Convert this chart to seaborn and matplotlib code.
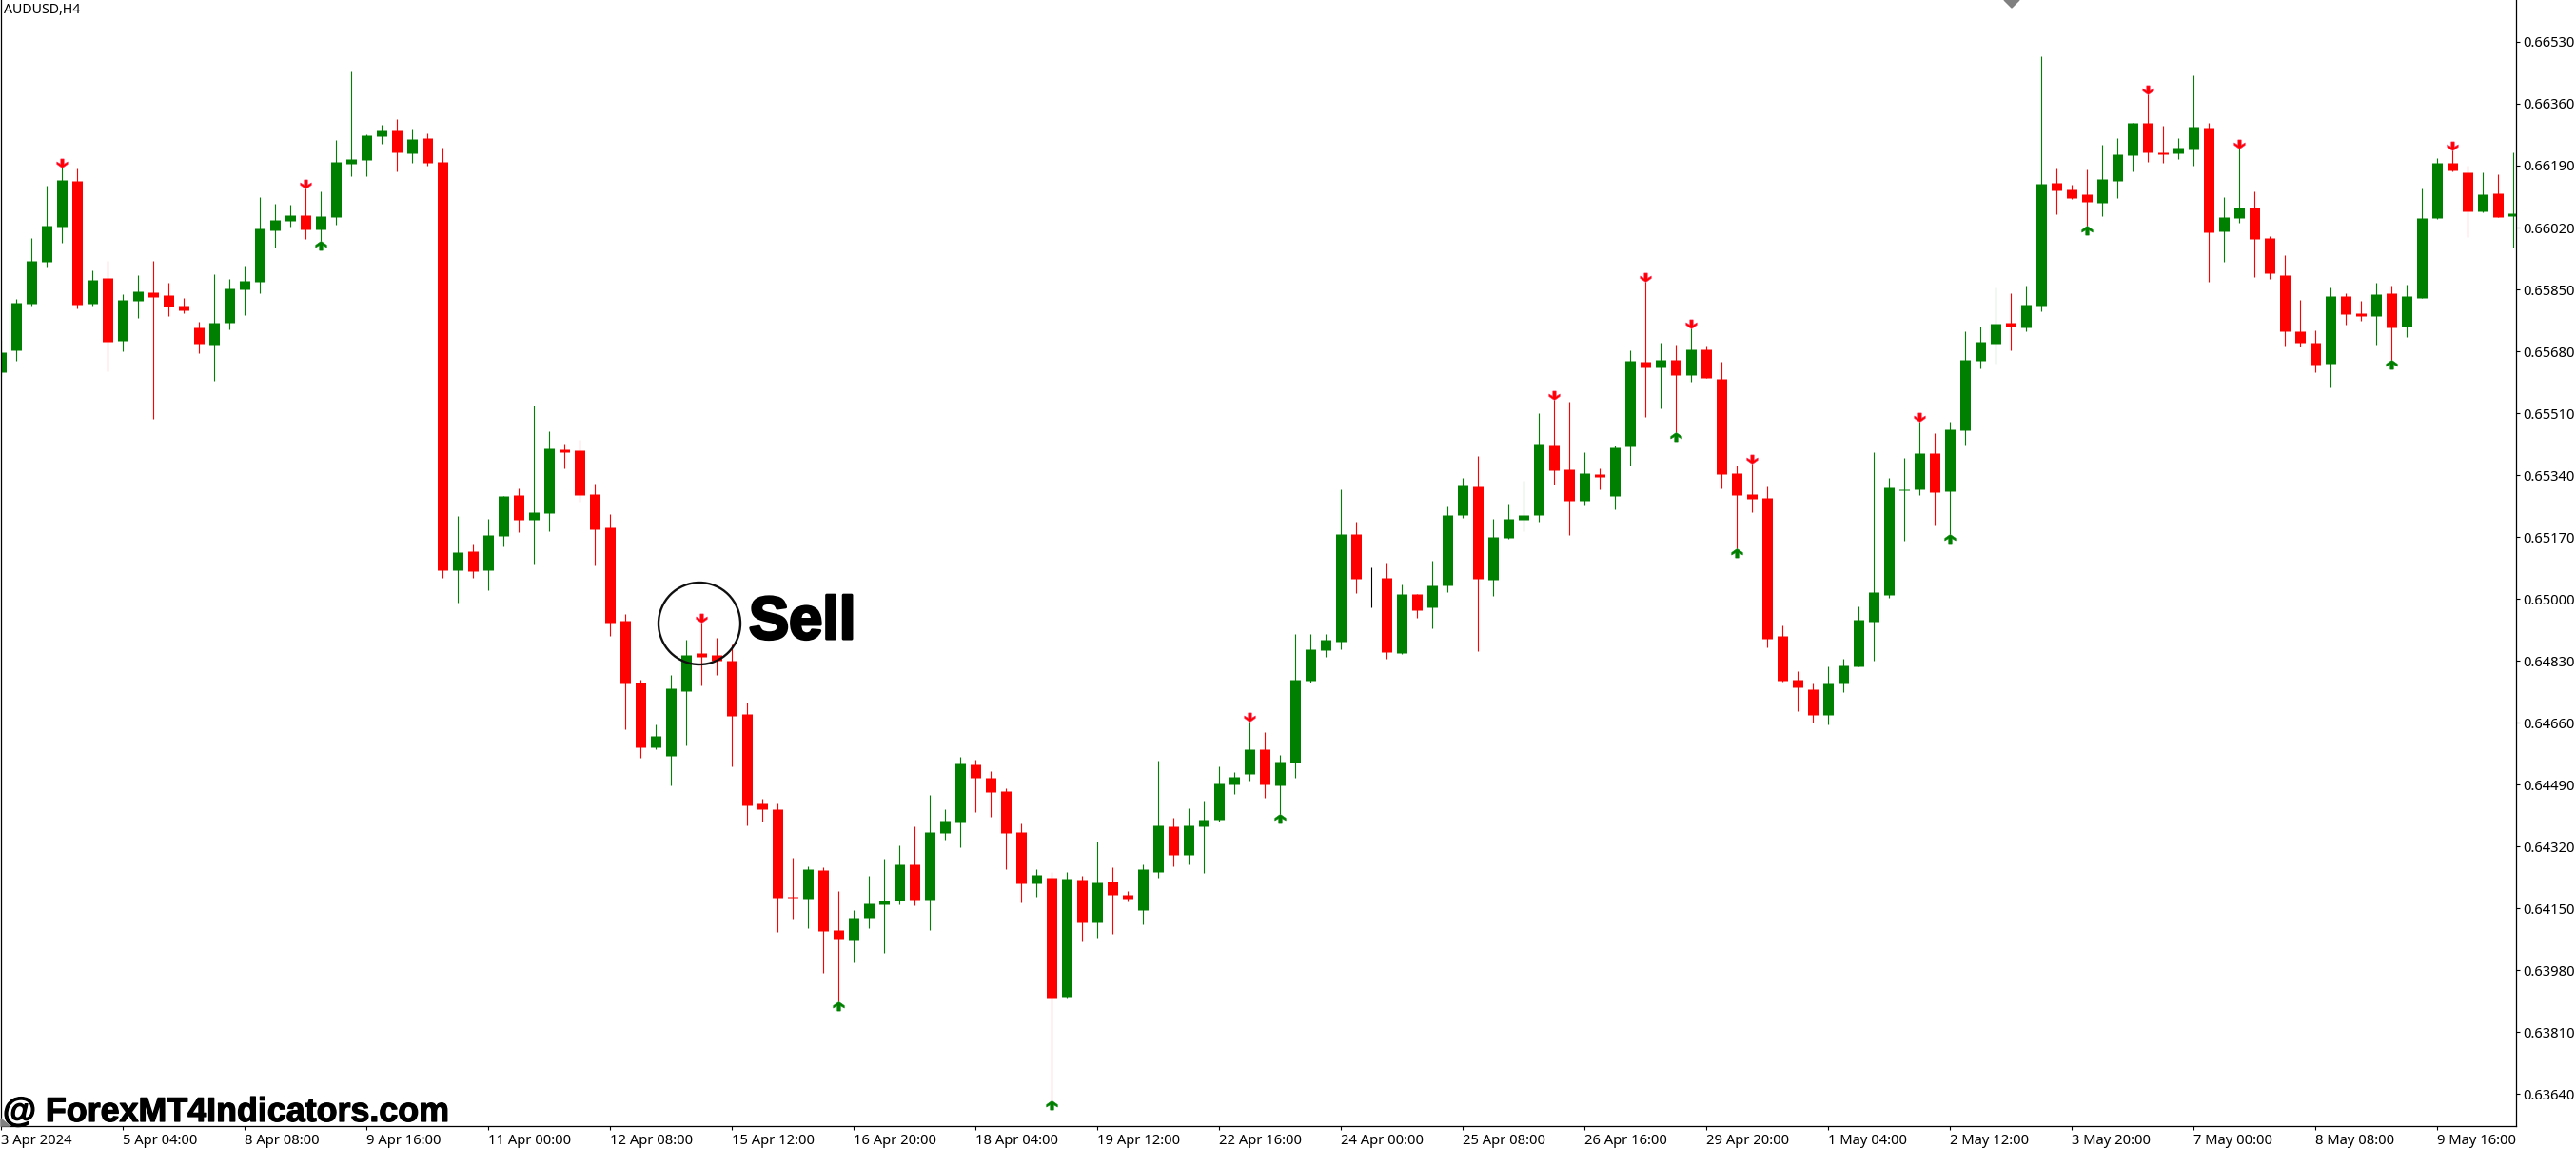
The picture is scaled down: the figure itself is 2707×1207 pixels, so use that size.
'''
AUDUSD H4 candlestick chart with sell and buy arrows
'''
import numpy as np
import pandas as pd
import matplotlib
matplotlib.use("Agg")
import matplotlib.pyplot as plt
import matplotlib.patheffects as effects
from matplotlib.patches import Circle, Polygon
from matplotlib.path import Path
from matplotlib.transforms import IdentityTransform
import seaborn as sns

#Candle prices, in points (1 point = 0.00001)
OPENS = [
    65622, 65682, 65811, 65926, 66023, 66148, 65811, 65882, 65709, 65819,
    65843, 65834, 65806, 65745, 65698, 65759, 65850, 65871, 66012, 66038,
    66054, 66015, 66048, 66195, 66206, 66271, 66287, 66224, 66266, 66200,
    65078, 65131, 65078, 65172, 65285, 65217, 65235, 65410, 65408, 65288,
    65196, 64940, 64770, 64592, 64570, 64746, 64851, 64846, 64830, 64683,
    64438, 64422, 64183, 64176, 64255, 64089, 64063, 64124, 64160, 64171,
    64270, 64173, 64356, 64385, 64544, 64508, 64471, 64359, 64218, 64234,
    63906, 64228, 64110, 64223, 64187, 64145, 64251, 64375, 64296, 64375,
    64393, 64490, 64518, 64586, 64488, 64551, 64775, 64859, 64883, 65177,
    65055, 65057, 64850, 65013, 64977, 65037, 65230, 65309, 65052, 65167,
    65217, 65230, 65423, 65355, 65269, 65343, 65283, 65418, 65651, 65635,
    65656, 65615, 65685, 65604, 65345, 65288, 65278, 64898, 64778, 64751,
    64681, 64767, 64814, 64937, 65011, 65299, 65301, 65400, 65296, 65463,
    65653, 65701, 65759, 65745, 65805, 66142, 66125, 66111, 66088, 66148,
    66219, 66308, 66226, 66224, 66234, 66294, 66009, 66046, 66075, 65991,
    65889, 65735, 65704, 65646, 65831, 65785, 65776, 65839, 65749, 65826,
    66046, 66198, 66171, 66065, 66115, 66051]
CLOSES = [
    65677, 65814, 65928, 66026, 66151, 65808, 65876, 65706, 65821, 65845,
    65829, 65803, 65792, 65701, 65759, 65853, 65874, 66017, 66041, 66054,
    66015, 66051, 66200, 66209, 66274, 66287, 66226, 66263, 66198, 65078,
    65128, 65076, 65175, 65282, 65217, 65238, 65413, 65403, 65285, 65191,
    64935, 64767, 64592, 64623, 64754, 64846, 64840, 64830, 64678, 64434,
    64422, 64178, 64178, 64257, 64087, 64066, 64124, 64163, 64171, 64270,
    64173, 64359, 64391, 64548, 64508, 64469, 64356, 64218, 64241, 63904,
    64231, 64110, 64220, 64187, 64176, 64257, 64377, 64296, 64377, 64393,
    64492, 64511, 64586, 64490, 64553, 64778, 64861, 64888, 65177, 65055,
    65055, 64854, 65013, 64968, 65037, 65230, 65311, 65055, 65170, 65220,
    65230, 65426, 65353, 65269, 65345, 65334, 65416, 65654, 65635, 65656,
    65615, 65685, 65606, 65343, 65285, 65274, 64890, 64775, 64756, 64681,
    64767, 64816, 64942, 65018, 65305, 65301, 65400, 65293, 65465, 65656,
    65706, 65756, 65749, 65808, 66140, 66122, 66101, 66091, 66154, 66221,
    66308, 66226, 66221, 66240, 66298, 66007, 66048, 66075, 65988, 65894,
    65735, 65704, 65643, 65831, 65782, 65776, 65837, 65745, 65831, 66046,
    66198, 66177, 66065, 66111, 66048, 66059]
HIGHS = [
    65711, 65825, 65992, 66135, 66185, 66182, 65903, 65928, 65838, 65889,
    65928, 65868, 65826, 65761, 65892, 65879, 65915, 66103, 66086, 66083,
    66128, 66120, 66260, 66449, 66276, 66303, 66318, 66289, 66279, 66240,
    65227, 65152, 65220, 65282, 65303, 65531, 65460, 65426, 65437, 65316,
    65233, 64958, 64778, 64655, 64790, 64887, 64934, 64893, 64874, 64715,
    64450, 64438, 64288, 64265, 64262, 64197, 64145, 64239, 64286, 64323,
    64375, 64461, 64422, 64565, 64558, 64527, 64479, 64382, 64257, 64249,
    64251, 64239, 64333, 64262, 64197, 64270, 64555, 64398, 64424, 64445,
    64539, 64523, 64663, 64633, 64571, 64903, 64903, 64903, 65300, 65211,
    65086, 65100, 65039, 65013, 65105, 65255, 65332, 65392, 65220, 65261,
    65324, 65510, 65546, 65541, 65403, 65358, 65421, 65683, 65872, 65704,
    65698, 65743, 65695, 65651, 65366, 65371, 65309, 64927, 64801, 64767,
    64814, 64835, 64979, 65403, 65332, 65388, 65487, 65455, 65487, 65735,
    65749, 65855, 65840, 65860, 66491, 66182, 66137, 66180, 66248, 66266,
    66308, 66386, 66300, 66266, 66438, 66308, 66103, 66237, 66120, 65996,
    65944, 65821, 65737, 65855, 65840, 65819, 65868, 65860, 65863, 66127,
    66211, 66231, 66190, 66171, 66166, 66226]
LOWS = [
    65613, 65654, 65806, 65911, 65978, 65798, 65806, 65626, 65680, 65771,
    65494, 65776, 65785, 65675, 65599, 65740, 65780, 65840, 65965, 66023,
    65988, 65983, 66028, 66161, 66161, 66250, 66175, 66198, 66190, 65057,
    64989, 65057, 65023, 65144, 65183, 65097, 65186, 65358, 65267, 65091,
    64898, 64642, 64563, 64587, 64487, 64597, 64762, 64790, 64539, 64377,
    64387, 64084, 64121, 64095, 63972, 63894, 64000, 64095, 64027, 64160,
    64157, 64089, 64338, 64317, 64414, 64401, 64257, 64166, 64183, 63622,
    63904, 64058, 64068, 64079, 64168, 64105, 64234, 64265, 64270, 64246,
    64387, 64464, 64500, 64453, 64409, 64508, 64771, 64840, 64862, 65016,
    64977, 64835, 64848, 64948, 64919, 65018, 65222, 64856, 65008, 65165,
    65186, 65211, 65314, 65175, 65256, 65300, 65245, 65366, 65500, 65523,
    65458, 65596, 65606, 65303, 65138, 65238, 64867, 64772, 64691, 64660,
    64655, 64744, 64814, 64830, 65003, 65160, 65285, 65202, 65177, 65424,
    65633, 65646, 65682, 65735, 65790, 66057, 66098, 66025, 66051, 66101,
    66175, 66200, 66198, 66209, 66190, 65870, 65926, 66033, 65884, 65879,
    65696, 65693, 65622, 65581, 65754, 65764, 65698, 65657, 65720, 65826,
    66043, 66174, 65994, 66062, 66048, 65965]

#Bars flagged by the indicator
SELL_BARS = [4, 20, 46, 82, 102, 108, 111, 115, 126, 141, 147, 161]
BUY_BARS = [21, 55, 69, 84, 110, 114, 128, 137, 157]

#Axis labels
TIME_LABELS = [
    "3 Apr 2024", "5 Apr 04:00", "8 Apr 08:00", "9 Apr 16:00", "11 Apr 00:00",
    "12 Apr 08:00", "15 Apr 12:00", "16 Apr 20:00", "18 Apr 04:00",
    "19 Apr 12:00", "22 Apr 16:00", "24 Apr 00:00", "25 Apr 08:00",
    "26 Apr 16:00", "29 Apr 20:00", "1 May 04:00", "2 May 12:00",
    "3 May 20:00", "7 May 00:00", "8 May 08:00", "9 May 16:00"]
PRICE_LABELS = [
    "0.66530", "0.66360", "0.66190", "0.66020", "0.65850", "0.65680",
    "0.65510", "0.65340", "0.65170", "0.65000", "0.64830", "0.64660",
    "0.64490", "0.64320", "0.64150", "0.63980", "0.63810", "0.63640"]

BARS_PER_LABEL = 8
WIDTH, HEIGHT = 2707, 1207
SIDE_COLORS = {"up": "#008000", "down": "#ff0000", "flat": "#000000"}

SELL_ARROW = Path([(0, 0), (0.6, 0.42), (0.6, 0.68), (0.18, 0.42), (0.18, 1),
                   (-0.18, 1), (-0.18, 0.42), (-0.6, 0.68), (-0.6, 0.42), (0, 0)],
                  closed=True)
BUY_ARROW = Path(SELL_ARROW.vertices * [1, -1], closed=True)


def long_frame(lower, upper, sides):
    '''Two rows per bar, so that lineplot draws one vertical stroke for each'''
    bars = np.arange(len(lower))
    return pd.DataFrame({
        "bar": np.concatenate([bars, bars]),
        "price": np.concatenate([lower, upper]) / 100000,
        "side": np.concatenate([sides, sides])})


def draw_candles(axis):
    '''Draw wicks and then bodies'''
    opens = np.array(OPENS, dtype=float)
    closes = np.array(CLOSES, dtype=float)
    sides = np.where(closes > opens, "up", np.where(closes < opens, "down", "flat"))
    body_low = np.minimum(opens, closes)
    body_high = np.maximum(opens, closes)
    #A bar that closes where it opened still shows a hairline body
    flat = body_low == body_high
    body_low[flat] -= 1.0
    body_high[flat] += 1.0
    sns.lineplot(data=long_frame(np.array(LOWS), np.array(HIGHS), sides),
                 x="bar", y="price", hue="side", units="bar", estimator=None,
                 palette=SIDE_COLORS, linewidth=0.8, solid_capstyle="butt",
                 legend=False, ax=axis)
    sns.lineplot(data=long_frame(body_low, body_high, sides),
                 x="bar", y="price", hue="side", units="bar", estimator=None,
                 palette=SIDE_COLORS, linewidth=7.92, solid_capstyle="butt",
                 legend=False, ax=axis)


def draw_arrows(axis):
    '''Mark the sell bars at their highs and the buy bars at their lows'''
    sell_prices = np.array(HIGHS)[SELL_BARS] / 100000
    buy_prices = np.array(LOWS)[BUY_BARS] / 100000
    sns.scatterplot(x=SELL_BARS, y=sell_prices, marker=SELL_ARROW, s=190,
                    color="#ff0000", edgecolor="#ff3060", linewidth=0.4, ax=axis, zorder=5)
    sns.scatterplot(x=BUY_BARS, y=buy_prices, marker=BUY_ARROW, s=190,
                    color="#008000", edgecolor="#008000", linewidth=0.4, ax=axis, zorder=5)


def style_axis(axis):
    '''Terminal look: price scale on the right, time labels from their tick'''
    axis.set_xlim(-0.03, 165.16)
    axis.set_ylim(0.635515, 0.66645)
    ticks = np.arange(len(TIME_LABELS)) * BARS_PER_LABEL
    axis.set_xticks(ticks, TIME_LABELS)
    axis.set_yticks([float(label) for label in PRICE_LABELS], PRICE_LABELS)
    axis.yaxis.tick_right()
    axis.tick_params(axis="both", length=3, width=0.8, color="black", labelsize=10.6,
                     labelcolor="black", pad=2.5, bottom=True, right=True, left=False)
    for label in axis.get_xticklabels():
        label.set_ha("left")
    axis.set_xlabel("")
    axis.set_ylabel("")
    sns.despine(ax=axis, top=True, left=False, right=False, bottom=False)
    for name in ("left", "right", "bottom"):
        axis.spines[name].set_color("black")
        axis.spines[name].set_linewidth(0.9)


def draw_annotations(figure):
    '''Title, hand made circle, sell label, watermark and the shift markers'''
    def pixel_text(x, y, text, **kwargs):
        figure.text(x / WIDTH, 1 - y / HEIGHT, text, **kwargs)

    pixel_text(4, 11, "AUDUSD,H4", fontsize=10.2, va="center", color="black")
    pixel_text(787, 671, "Sell", fontsize=45.5, fontweight="bold", family="Liberation Sans",
               va="baseline", color="black",
               path_effects=[effects.withStroke(linewidth=2.2, foreground="black")])
    pixel_text(3, 1178, "@ ForexMT4Indicators.com", fontsize=25.8, fontweight="bold",
               family="Liberation Sans", va="baseline", color="black",
               path_effects=[effects.withStroke(linewidth=0.9, foreground="black")])
    figure.add_artist(Circle((735, HEIGHT - 655), 43, fill=False, edgecolor="#101010",
                             linewidth=1.7, transform=IdentityTransform()))
    figure.add_artist(Polygon([(2106, HEIGHT), (2122, HEIGHT), (2114, HEIGHT - 8)],
                              color="#808080", transform=IdentityTransform()))
    figure.add_artist(Polygon([(1, HEIGHT - 1175), (10, HEIGHT - 1183), (1, HEIGHT - 1183)],
                              color="#808080", transform=IdentityTransform()))


def main():
    '''Main method'''
    sns.set_theme(style="white")
    plt.rcParams['font.family'] = ['Noto Sans', 'DejaVu Sans']
    figure = plt.figure(figsize=(WIDTH / 100, HEIGHT / 100), dpi=100, facecolor="white")
    axis = figure.add_axes([1 / WIDTH, (HEIGHT - 1183) / HEIGHT, 2643 / WIDTH, 1183 / HEIGHT])
    draw_candles(axis)
    draw_arrows(axis)
    style_axis(axis)
    draw_annotations(figure)
    figure.savefig("out.png", dpi=100)


if __name__ == "__main__":
    main()
